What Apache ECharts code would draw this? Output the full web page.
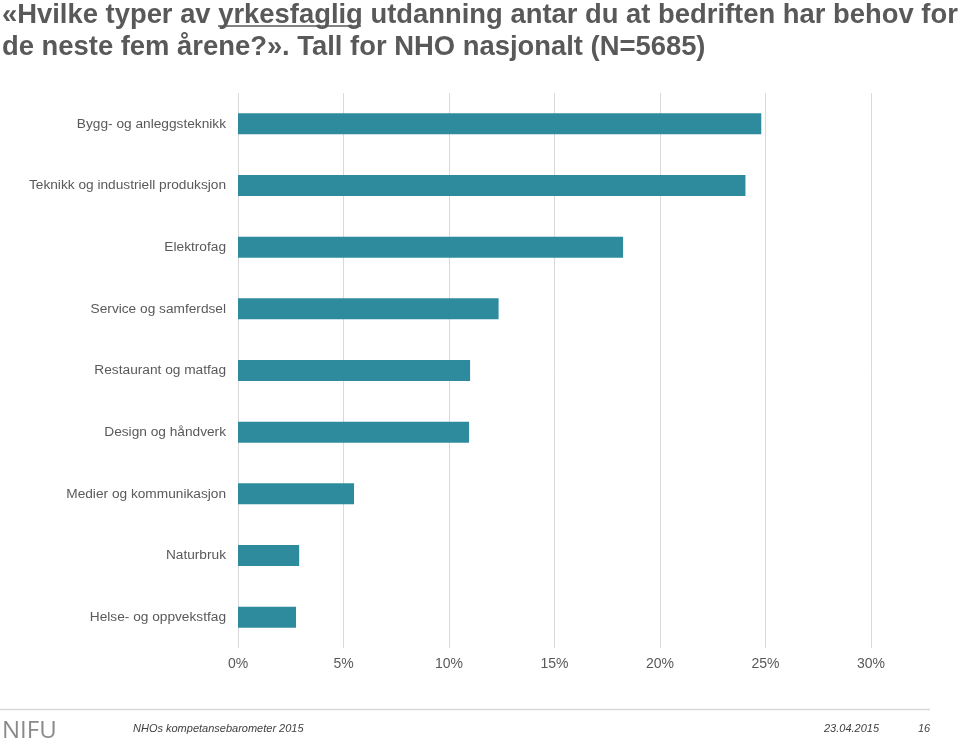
<!DOCTYPE html>
<html><head><meta charset="utf-8">
<script src="https://cdn.jsdelivr.net/npm/echarts@6/dist/echarts.min.js"></script>
<style>html,body{margin:0;padding:0;background:#fff}#c{width:959px;height:746px}</style>
</head><body><div id="c"></div>
<script>
const categories = ["Bygg- og anleggsteknikk","Teknikk og industriell produksjon","Elektrofag","Service og samferdsel","Restaurant og matfag","Design og håndverk","Medier og kommunikasjon","Naturbruk","Helse- og oppvekstfag"];
const values = [24.8, 24.05, 18.25, 12.35, 11.0, 10.95, 5.5, 2.9, 2.75];
const tickValues = [0, 5, 10, 15, 20, 25, 30];

const chart = echarts.init(document.getElementById('c'));
const font = 'Liberation Sans, Arial, sans-serif';
chart.setOption({
  animation: false,
  title: {
    text: '«Hvilke typer av yrkesfaglig utdanning antar du at bedriften har behov for\nde neste fem årene?». Tall for NHO nasjonalt (N=5685)',
    left: -3, top: -6,
    textStyle: {fontFamily: font, fontSize: 27.4, fontWeight: 'bold', color: '#595959', lineHeight: 32}
  },
  grid: {left: 238, right: 88, top: 93, bottom: 98, containLabel: false},
  xAxis: {
    type: 'value', min: tickValues[0], max: tickValues[tickValues.length-1], interval: 5,
    axisLine: {show: false}, axisTick: {show: false},
    axisLabel: {formatter: '{value}%', color: '#595959', fontSize: 14, fontFamily: font, margin: 9},
    splitLine: {lineStyle: {color: '#d9d9d9', width: 1}}
  },
  yAxis: {
    type: 'category', data: categories, inverse: true,
    axisLine: {show: false}, axisTick: {show: false},
    axisLabel: {color: '#595959', fontSize: 13.7, fontFamily: font, margin: 12}
  },
  series: [{
    type: 'bar', data: values, barWidth: '34%',
    itemStyle: {color: '#2E8B9D'}
  }],
  graphic: [
    {type: 'line', shape: {x1: 218, y1: 26, x2: 361, y2: 26}, style: {stroke: '#595959', lineWidth: 1.5}},
    {type: 'line', shape: {x1: 0, y1: 709.5, x2: 930, y2: 709.5}, style: {stroke: '#d9d9d9', lineWidth: 1.5}},
    {type: 'text', left: 2, top: 719, style: {text: 'NIFU', font: '24px "Open Sans", sans-serif', fill: '#8a8a8a'}},
    {type: 'text', left: 133, top: 723, style: {text: 'NHOs kompetansebarometer 2015', font: 'italic 11px ' + font, fill: '#404040'}},
    {type: 'text', left: 824, top: 723, style: {text: '23.04.2015', font: 'italic 11px ' + font, fill: '#404040'}},
    {type: 'text', left: 918, top: 723, style: {text: '16', font: 'italic 11px ' + font, fill: '#404040'}}
  ]
});
</script></body></html>
